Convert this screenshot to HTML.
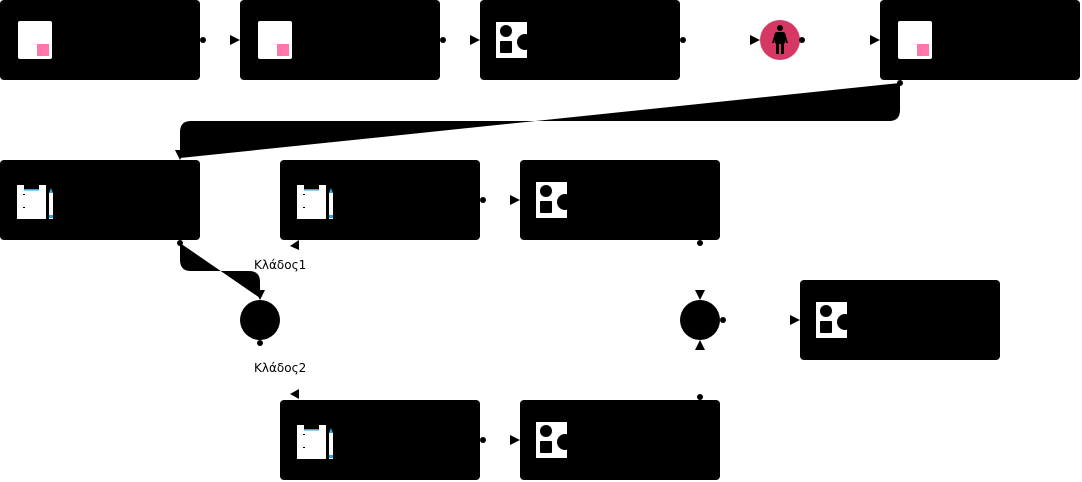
<!DOCTYPE html>
<html><head><meta charset="utf-8"><style>
html,body{margin:0;padding:0;background:#fff;width:1082px;height:482px;overflow:hidden}
text{font-family:"DejaVu Sans","Liberation Sans",sans-serif;font-size:12px;fill:#000}
</style></head><body>
<svg width="1082" height="482" viewBox="0 0 1082 482" xmlns="http://www.w3.org/2000/svg">
<defs>
<g id="doc"><rect x="0" y="0" width="34" height="38" rx="2" fill="#fff"/><rect x="19" y="23" width="12" height="12" fill="#ff77aa"/></g>
<g id="shp"><rect x="0" y="0" width="31" height="36" fill="#fff"/><circle cx="10" cy="9" r="6" fill="#000"/><rect x="4" y="19" width="12" height="12" rx="1" fill="#000"/><circle cx="29" cy="20" r="8" fill="#000"/></g>
<g id="clip"><rect x="0" y="0" width="29" height="34" fill="#fff"/><rect x="7" y="0" width="15" height="5" fill="#000"/><rect x="7" y="4" width="15" height="1.5" fill="#29a9e0"/><rect x="6" y="9" width="2" height="1" fill="#000"/><rect x="6" y="22" width="2" height="1" fill="#000"/><rect x="32" y="8" width="4" height="26" fill="#fff"/><polygon points="32,8 34,3 36,8" fill="#29a9e0"/><rect x="32" y="30" width="4" height="3" fill="#29a9e0"/></g>
</defs>
<path d="M900,83 L900,110 Q900,121 889,121 L191,121 Q180,121 180,132 L180,158 Z" fill="#000"/>
<path d="M180,243 L180,260 Q180,271 191,271 L249,271 Q260,271 260,282 L260,298 Z" fill="#000"/>
<g fill="#000">
<rect x="0" y="0" width="200" height="80" rx="4"/>
<rect x="240" y="0" width="200" height="80" rx="4"/>
<rect x="480" y="0" width="200" height="80" rx="4"/>
<rect x="880" y="0" width="200" height="80" rx="4"/>
<rect x="0" y="160" width="200" height="80" rx="4"/>
<rect x="280" y="160" width="200" height="80" rx="4"/>
<rect x="520" y="160" width="200" height="80" rx="4"/>
<rect x="800" y="280" width="200" height="80" rx="4"/>
<rect x="280" y="400" width="200" height="80" rx="4"/>
<rect x="520" y="400" width="200" height="80" rx="4"/>
<circle cx="260" cy="320" r="20"/>
<circle cx="700" cy="320" r="20"/>
</g>
<circle cx="780" cy="40" r="20" fill="#d63864"/>
<g fill="#000"><circle cx="780" cy="28" r="3"/><rect x="775" y="32" width="10" height="12" rx="2"/><rect x="776" y="42" width="3" height="12"/><rect x="781" y="42" width="3" height="12"/><polygon points="775,33 772,43 774,43 776,36"/><polygon points="785,33 788,43 786,43 784,36"/></g>
<use href="#doc" x="18" y="21"/><use href="#doc" x="258" y="21"/><use href="#doc" x="898" y="21"/>
<use href="#shp" x="496" y="22"/><use href="#shp" x="536" y="182"/><use href="#shp" x="816" y="302"/><use href="#shp" x="536" y="422"/>
<use href="#clip" x="17" y="185"/><use href="#clip" x="297" y="185"/><use href="#clip" x="297" y="425"/>
<g fill="#000">
<circle cx="203" cy="40" r="3"/><circle cx="443" cy="40" r="3"/><circle cx="683" cy="40" r="3"/><circle cx="802" cy="40" r="3"/>
<circle cx="900" cy="83" r="3"/><circle cx="180" cy="243" r="3"/><circle cx="483" cy="200" r="3"/><circle cx="700" cy="243" r="3"/>
<circle cx="260" cy="343" r="3"/><circle cx="723" cy="320" r="3"/><circle cx="483" cy="440" r="3"/><circle cx="700" cy="397" r="3"/>
<polygon points="230,35 240,40 230,45"/><polygon points="470,35 480,40 470,45"/><polygon points="750,35 760,40 750,45"/><polygon points="870,35 880,40 870,45"/>
<polygon points="510,195 520,200 510,205"/><polygon points="790,315 800,320 790,325"/><polygon points="510,435 520,440 510,445"/>
<polygon points="695,290 705,290 700,300"/><polygon points="695,350 705,350 700,340"/>
<polygon points="175,150 185,150 180,160"/><polygon points="255,290 265,290 260,300"/>
<polygon points="290,246 299,240 299,250"/><polygon points="290,394 299,389 299,399"/>
</g>
<text x="254" y="269">Κλάδος1</text>
<text x="254" y="372">Κλάδος2</text>
</svg>
</body></html>
